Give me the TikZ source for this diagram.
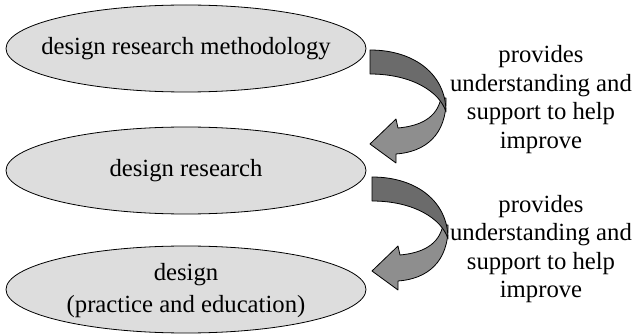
\documentclass[tikz,border=0pt]{standalone}
\usepackage{fontspec}
\setmainfont{Liberation Serif}
\usetikzlibrary{shapes.geometric}
\definecolor{ellfill}{HTML}{DDDDDD}
\definecolor{ribdark}{HTML}{6B6B6B}
\definecolor{riblight}{HTML}{8E8E8E}
\tikzset{
  stage/.style={ellipse, draw=black, line width=0.8pt, fill=ellfill,
    minimum width=360pt, minimum height=87pt, inner sep=0pt},
  stagetext/.style={align=center, inner sep=0pt,
    font=\fontsize{24.7}{30}\selectfont},
  note/.style={align=center, inner sep=0pt, font=\fontsize{24.7}{28.5}\selectfont},
  ribbon/.pic={
    \draw[fill=riblight, line width=0.8pt, line join=round]
      (76,48) .. controls (77,85) and (55,102) .. (26,104) -- (26,113) -- (0,94)
      -- (26,69) -- (28,78) .. controls (50,76) and (67,68) .. (71,48) -- cycle;
    \draw[fill=ribdark, line width=0.8pt, line join=round]
      (0,0) .. controls (45,0) and (76,25) .. (76,62)
      .. controls (70,42) and (42,24) .. (0,24) -- cycle;
  }
}
\begin{document}
\begin{tikzpicture}[x=1pt, y=-1pt]
\useasboundingbox (0,0) rectangle (641,334);
\node[stage] (m) at (186,48.5) {};
\node[stagetext] (mt) at (m.center) {design research methodology};
\node[stage] (r) at (186,170.5) {};
\node[stagetext] (rt) at (r.center) {design research};
\node[stage] (d) at (186,289.5) {};
\node[stagetext] (dt) at ([yshift=-1pt]d.center) {design\\[2pt](practice and education)};
\pic (a1) at (370,50) {ribbon};
\pic (a2) at (372,177) {ribbon};
\node[note] (t1) at (541,99.5) {provides\\understanding and\\support to help\\improve};
\node[note] (t2) at (541,249) {provides\\understanding and\\support to help\\improve};
\end{tikzpicture}
\end{document}
